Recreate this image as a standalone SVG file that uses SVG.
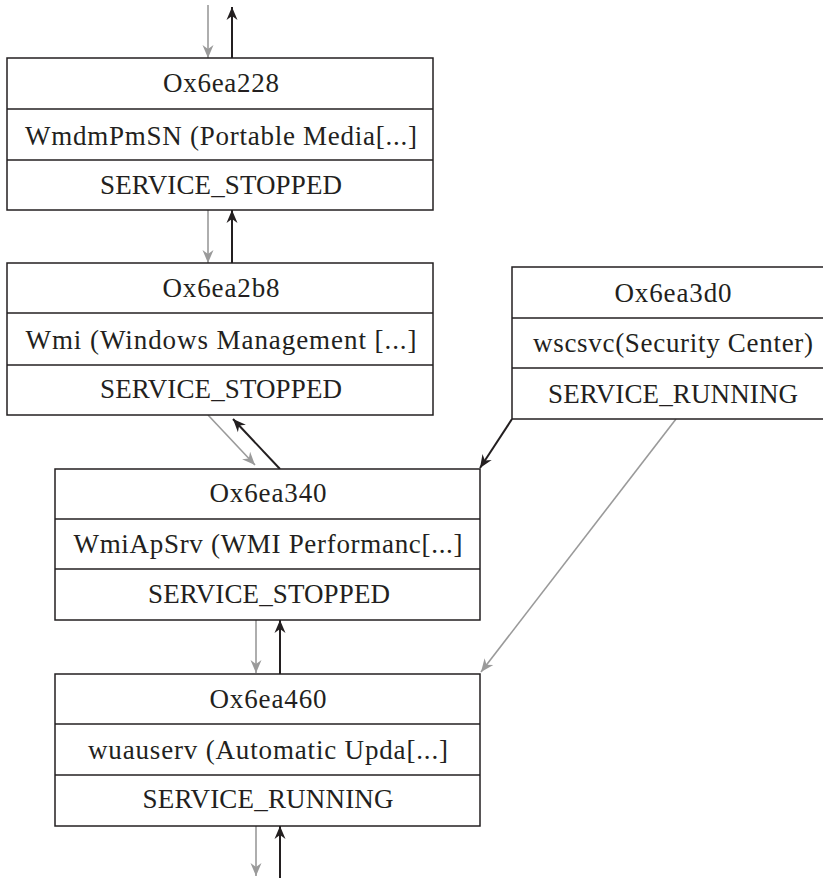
<svg xmlns="http://www.w3.org/2000/svg" width="823" height="878" viewBox="0 0 823 878">
<style>
.box{fill:#fff;stroke:#231f20;stroke-width:1.5}
.div{stroke:#231f20;stroke-width:1.5}
.t{font-family:"Liberation Serif","Times New Roman",serif;font-size:27px;fill:#231f20;text-anchor:middle}
.k{stroke:#231f20;stroke-width:2;fill:none}
.g{stroke:#9a9a9a;stroke-width:1.6;fill:none}
</style>
<defs>
<marker id="ak" viewBox="-13 -6 13 12" refX="0" refY="0" markerWidth="13" markerHeight="12" markerUnits="userSpaceOnUse" orient="auto">
<path d="M0,0 L-13,-5.5 L-9,0 L-13,5.5 Z" fill="#231f20"/>
</marker>
<marker id="ag" viewBox="-13 -6 13 12" refX="0" refY="0" markerWidth="13" markerHeight="12" markerUnits="userSpaceOnUse" orient="auto">
<path d="M0,0 L-13,-5.5 L-9,0 L-13,5.5 Z" fill="#9a9a9a"/>
</marker>
</defs>
<rect width="823" height="878" fill="#fff"/>
<g id="connectors">
<line class="g" x1="208" y1="5" x2="208" y2="58" marker-end="url(#ag)"/>
<line class="k" x1="232" y1="58" x2="232" y2="7" marker-end="url(#ak)"/>
<line class="g" x1="208" y1="210" x2="208" y2="263" marker-end="url(#ag)"/>
<line class="k" x1="232" y1="263" x2="232" y2="210" marker-end="url(#ak)"/>
<line class="g" x1="208" y1="415" x2="255" y2="465" marker-end="url(#ag)"/>
<line class="k" x1="280" y1="469" x2="233" y2="419" marker-end="url(#ak)"/>
<line class="k" x1="512" y1="419" x2="480" y2="468" marker-end="url(#ak)"/>
<line class="g" x1="676" y1="419" x2="481" y2="672" marker-end="url(#ag)"/>
<line class="g" x1="256" y1="620" x2="256" y2="673" marker-end="url(#ag)"/>
<line class="k" x1="280" y1="674" x2="280" y2="620" marker-end="url(#ak)"/>
<line class="g" x1="256" y1="826" x2="256" y2="876" marker-end="url(#ag)"/>
<line class="k" x1="280" y1="878" x2="280" y2="826" marker-end="url(#ak)"/>
</g>
<g id="node1">
<rect class="box" x="7" y="58" width="426" height="152"/>
<line class="div" x1="7" y1="109" x2="433" y2="109"/>
<line class="div" x1="7" y1="160" x2="433" y2="160"/>
<text class="t" x="221" y="92" textLength="116">Ox6ea228</text>
<text class="t" x="221" y="145" textLength="392">WmdmPmSN (Portable Media[...]</text>
<text class="t" x="221" y="194" textLength="242">SERVICE_STOPPED</text>
</g>
<g id="node2">
<rect class="box" x="7" y="263" width="426" height="152"/>
<line class="div" x1="7" y1="313" x2="433" y2="313"/>
<line class="div" x1="7" y1="365" x2="433" y2="365"/>
<text class="t" x="221" y="297" textLength="117">Ox6ea2b8</text>
<text class="t" x="221" y="349" textLength="391">Wmi (Windows Management [...]</text>
<text class="t" x="221" y="398" textLength="242">SERVICE_STOPPED</text>
</g>
<g id="node3">
<rect class="box" x="512" y="267" width="322" height="152"/>
<line class="div" x1="512" y1="318" x2="834" y2="318"/>
<line class="div" x1="512" y1="368" x2="834" y2="368"/>
<text class="t" x="673" y="302" textLength="117">Ox6ea3d0</text>
<text class="t" x="673" y="352" textLength="280">wscsvc(Security Center)</text>
<text class="t" x="673" y="403" textLength="250">SERVICE_RUNNING</text>
</g>
<g id="node4">
<rect class="box" x="55" y="469" width="425" height="151"/>
<line class="div" x1="55" y1="519" x2="480" y2="519"/>
<line class="div" x1="55" y1="569" x2="480" y2="569"/>
<text class="t" x="268" y="502" textLength="117">Ox6ea340</text>
<text class="t" x="268" y="553" textLength="389">WmiApSrv (WMI Performanc[...]</text>
<text class="t" x="269" y="603" textLength="242">SERVICE_STOPPED</text>
</g>
<g id="node5">
<rect class="box" x="55" y="674" width="425" height="152"/>
<line class="div" x1="55" y1="724" x2="480" y2="724"/>
<line class="div" x1="55" y1="775" x2="480" y2="775"/>
<text class="t" x="268" y="708" textLength="117">Ox6ea460</text>
<text class="t" x="268" y="759" textLength="360">wuauserv (Automatic Upda[...]</text>
<text class="t" x="268" y="808" textLength="251">SERVICE_RUNNING</text>
</g>
</svg>
